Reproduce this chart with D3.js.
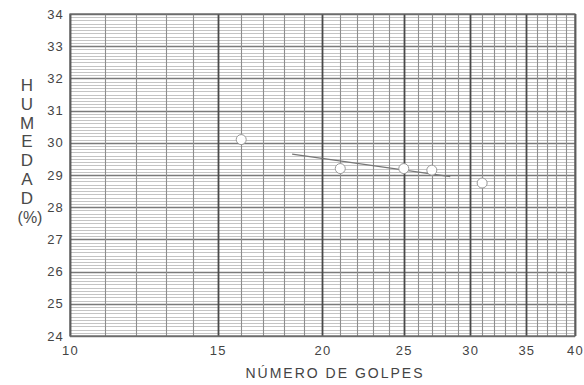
<!DOCTYPE html>
<html>
<head>
<meta charset="utf-8">
<script src="https://cdn.jsdelivr.net/npm/d3@7"></script>
<style>
  body { margin: 0; background: #fff; }
  svg { display: block; font-family: Arial, "Liberation Sans", sans-serif; }
</style>
</head>
<body>
<svg id="chart"></svg>
<script>
// datos
const golpes = [16, 21, 25, 27, 31];
const humedad = [30.1, 29.2, 29.2, 29.15, 28.75];
const lineaX = [18.4, 28.4];
const lineaY = [29.65, 28.95];
const xTicks = [10, 15, 20, 25, 30, 35, 40];
const yTicks = [24, 25, 26, 27, 28, 29, 30, 31, 32, 33, 34];
const tituloY = ['H', 'U', 'M', 'E', 'D', 'A', 'D'];

const width = 584;
const height = 385;
const margin = { top: 14, right: 9, bottom: 49, left: 70 };

const svg = d3.select('#chart')
  .attr('width', width)
  .attr('height', height);

const x = d3.scaleLog()
  .domain([10, 40])
  .range([margin.left, width - margin.right]);

const y = d3.scaleLinear()
  .domain([24, 34])
  .range([height - margin.bottom, margin.top]);

// rejilla horizontal cada 0.1
const hLines = d3.range(240, 341).map(d => d / 10);
svg.append('g')
  .selectAll('line')
  .data(hLines)
  .join('line')
  .attr('x1', x(10))
  .attr('x2', x(40))
  .attr('y1', d => Math.round(y(d)) + 0.5)
  .attr('y2', d => Math.round(y(d)) + 0.5)
  .attr('stroke', d => Math.abs(d - Math.round(d)) < 1e-6 ? '#7a7a7a' : '#c4c4c4')
  .attr('stroke-width', d => Math.abs(d - Math.round(d)) < 1e-6 ? 1.3 : 1);

// rejilla vertical en cada entero
const vLines = d3.range(10, 41);
svg.append('g')
  .selectAll('line')
  .data(vLines)
  .join('line')
  .attr('x1', d => Math.round(x(d)) + 0.5)
  .attr('x2', d => Math.round(x(d)) + 0.5)
  .attr('y1', y(34))
  .attr('y2', y(24))
  .attr('stroke', d => d % 5 === 0 ? '#4a4a4a' : '#8e8e8e')
  .attr('stroke-width', d => d % 5 === 0 ? 1.8 : 1.1);

// marco
svg.append('rect')
  .attr('x', x(10))
  .attr('y', y(34))
  .attr('width', x(40) - x(10))
  .attr('height', y(24) - y(34))
  .attr('fill', 'none')
  .attr('stroke', '#666')
  .attr('stroke-width', 1.3);

// ejes (solo etiquetas)
const xAxis = svg.append('g')
  .attr('transform', `translate(0,${y(24)})`)
  .call(d3.axisBottom(x).tickValues(xTicks).tickFormat(d3.format('d')).tickSize(0).tickPadding(10));
xAxis.select('.domain').remove();
xAxis.selectAll('text')
  .attr('font-size', 13)
  .attr('letter-spacing', 1.2)
  .attr('fill', '#444');

const yAxis = svg.append('g')
  .attr('transform', `translate(${x(10)},0)`)
  .call(d3.axisLeft(y).tickValues(yTicks).tickFormat(d3.format('d')).tickSize(0).tickPadding(6));
yAxis.select('.domain').remove();
yAxis.selectAll('text')
  .attr('font-size', 13)
  .attr('letter-spacing', 1.2)
  .attr('fill', '#444');

// titulo eje x
svg.append('text')
  .attr('x', 335)
  .attr('y', 378)
  .attr('text-anchor', 'middle')
  .attr('font-size', 14)
  .attr('letter-spacing', 2)
  .attr('fill', '#444')
  .text('NÚMERO DE GOLPES');

// titulo eje y, letras apiladas
svg.append('g')
  .selectAll('text')
  .data(tituloY)
  .join('text')
  .attr('x', 27)
  .attr('y', (d, i) => 91 + i * 18.8)
  .attr('text-anchor', 'middle')
  .attr('font-size', 17)
  .attr('fill', '#4a4a4a')
  .text(d => d);

svg.append('text')
  .attr('x', 30)
  .attr('y', 223)
  .attr('text-anchor', 'middle')
  .attr('font-size', 16)
  .attr('fill', '#4a4a4a')
  .text('(%)');

// linea de tendencia
svg.append('line')
  .attr('x1', x(lineaX[0]))
  .attr('y1', y(lineaY[0]))
  .attr('x2', x(lineaX[1]))
  .attr('y2', y(lineaY[1]))
  .attr('stroke', '#777')
  .attr('stroke-width', 1.2);

// puntos
svg.append('g')
  .selectAll('circle')
  .data(golpes)
  .join('circle')
  .attr('cx', d => x(d))
  .attr('cy', (d, i) => y(humedad[i]))
  .attr('r', 5)
  .attr('fill', '#fff')
  .attr('stroke', '#999')
  .attr('stroke-width', 1);
</script>
</body>
</html>
